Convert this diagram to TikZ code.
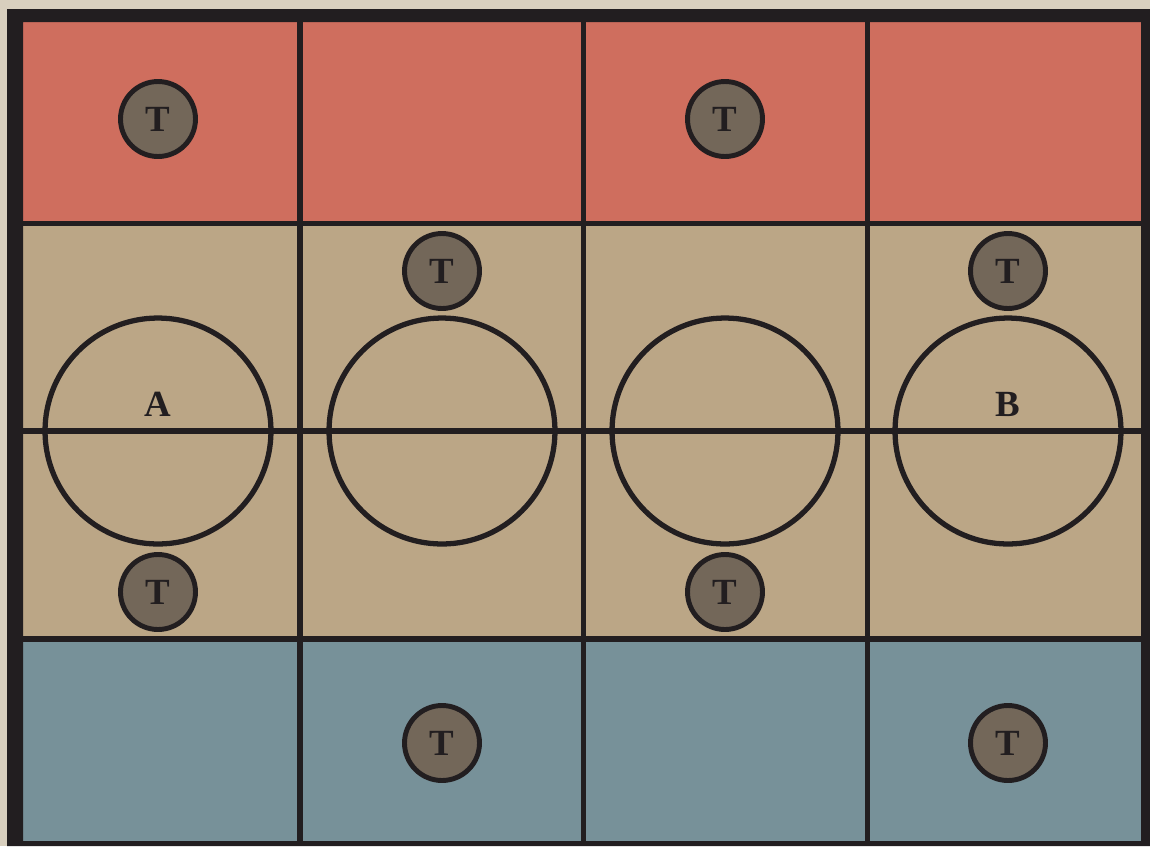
\documentclass[tikz,border=0pt]{standalone}
\usepackage{fontspec}
\setmainfont{Liberation Serif}
\usetikzlibrary{positioning}
\definecolor{bdpaper}{HTML}{D8CFBE}
\definecolor{bdred}{HTML}{CF6E5E}
\definecolor{bdtan}{HTML}{BBA686}
\definecolor{bdblue}{HTML}{779199}
\definecolor{bdtoken}{HTML}{736759}
\definecolor{bdink}{HTML}{221E20}
\tikzset{
  gridline/.style={draw=bdink, line width=3.1pt},
  roundtable/.style={circle, draw=bdink, line width=3pt, minimum size=4.52cm, inner sep=0pt},
  tok/.style={circle, draw=bdink, fill=bdtoken, line width=2.8pt, minimum size=1.5cm,
    inner sep=0pt, font=\fontsize{21}{21}\selectfont\bfseries, text=bdink},
  seatlabel/.style={font=\fontsize{21}{21}\selectfont\bfseries, text=bdink, inner sep=0pt}
}
\begin{document}
\begin{tikzpicture}[x=0.02cm, y=-0.02cm]
        \useasboundingbox (0,0) rectangle (1150,846);
        \fill[bdpaper] (0,0) rectangle (1150,846);
        \fill[bdred] (23,22) rectangle (1141,223.5);
        \fill[bdtan] (23,223.5) rectangle (1141,639);
        \fill[bdblue] (23,639) rectangle (1141,841);
        \foreach \x in {300,583.5,867.5} \draw[gridline] (\x,22) -- (\x,841);
        \foreach \y in {223.5,431,639} \draw[gridline] (23,\y) -- (1141,\y);
        \fill[bdink, even odd rule] (7,9) rectangle (1150,846) (23,22) rectangle (1141,841);

        \node[roundtable] (tblA) at (158,431) {};
        \node[roundtable] (tblB) at (442,431) {};
        \node[roundtable] (tblC) at (725,431) {};
        \node[roundtable] (tblD) at (1008,431) {};
        \node[seatlabel] (labA) at (158,404) {A};
        \node[seatlabel] (labB) at (1008,404) {B};

        \node[tok] (t1) at (158,119) {T};
        \node[tok] (t2) at (725,119) {T};
        \node[tok] (t3) at (442,271) {T};
        \node[tok] (t4) at (1008,271) {T};
        \node[tok] (t5) at (158,592) {T};
        \node[tok] (t6) at (725,592) {T};
        \node[tok] (t7) at (442,743) {T};
        \node[tok] (t8) at (1008,743) {T};
    \end{tikzpicture}
\end{document}
